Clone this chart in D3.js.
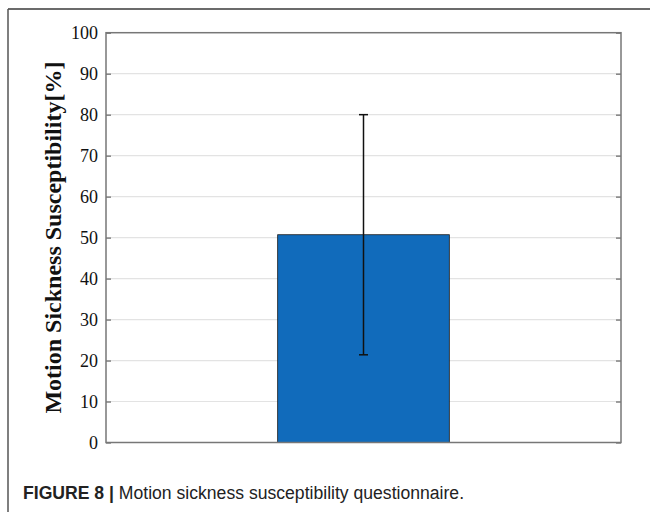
<!DOCTYPE html>
<html>
<head>
<meta charset="utf-8">
<script src="https://cdn.jsdelivr.net/npm/d3@7"></script>
<style>
  html, body { margin: 0; padding: 0; background: #fff; }
  svg { display: block; }
</style>
</head>
<body>
<svg id="chart" width="650" height="512"></svg>
<script>
// Questionnaire result: one bar with its error range
const categories = ["MSSQ"];
const meanValues = [50.7];
const lowerBounds = [21.4];
const upperBounds = [80];
const yTicks = [0, 10, 20, 30, 40, 50, 60, 70, 80, 90, 100];

const svg = d3.select("#chart");
const W = 650, H = 512;
const plot = { left: 106, right: 621, top: 32.7, bottom: 442.5 };

// figure frame (top and left rule)
svg.append("line").attr("x1", 8).attr("x2", W).attr("y1", 9).attr("y2", 9)
  .attr("stroke", "#3a3a3a").attr("stroke-width", 1.5);
svg.append("line").attr("x1", 8).attr("x2", 8).attr("y1", 9).attr("y2", H)
  .attr("stroke", "#555").attr("stroke-width", 1.5);

const x = d3.scaleBand().domain(categories)
  .range([plot.left, plot.right]).paddingInner(0).paddingOuter(1);
const y = d3.scaleLinear().domain([0, 100]).range([plot.bottom, plot.top]);

// grid lines
svg.append("g").selectAll("line").data(yTicks.filter(t => t > 0 && t < 100)).join("line")
  .attr("x1", plot.left).attr("x2", plot.right)
  .attr("y1", d => y(d)).attr("y2", d => y(d))
  .attr("stroke", "#e3e3e3").attr("stroke-width", 1.2);

// bars
svg.append("g").selectAll("rect").data(categories).join("rect")
  .attr("x", d => x(d)).attr("width", x.bandwidth())
  .attr("y", (d, i) => y(meanValues[i]))
  .attr("height", (d, i) => y(0) - y(meanValues[i]))
  .attr("fill", "#116bbb").attr("stroke", "#1a1a1a").attr("stroke-width", 0.8);

// error bars
const eb = svg.append("g").attr("stroke", "#111").attr("stroke-width", 1.5);
categories.forEach((c, i) => {
  const cx = x(c) + x.bandwidth() / 2;
  eb.append("line").attr("x1", cx).attr("x2", cx)
    .attr("y1", y(lowerBounds[i])).attr("y2", y(upperBounds[i]));
  [lowerBounds[i], upperBounds[i]].forEach(v => {
    eb.append("line").attr("x1", cx - 4.5).attr("x2", cx + 4.5)
      .attr("y1", y(v)).attr("y2", y(v));
  });
});

// left axis with inward ticks
const leftAxis = svg.append("g").attr("transform", `translate(${plot.left},0)`)
  .call(d3.axisLeft(y).tickValues(yTicks).tickSizeInner(-5).tickSizeOuter(0).tickPadding(8));
leftAxis.select(".domain").remove();
leftAxis.selectAll(".tick line").attr("stroke", "#666").attr("stroke-width", 1.2);
leftAxis.selectAll(".tick text")
  .attr("font-family", "'Liberation Serif', 'Times New Roman', serif")
  .attr("font-size", 18).attr("fill", "#111");

// right axis ticks (mirrored)
const rightAxis = svg.append("g").attr("transform", `translate(${plot.right},0)`)
  .call(d3.axisRight(y).tickValues(yTicks).tickSizeInner(-5).tickSizeOuter(0).tickFormat(""));
rightAxis.select(".domain").remove();
rightAxis.selectAll(".tick line").attr("stroke", "#666").attr("stroke-width", 1.2);

// axes box
svg.append("rect").attr("x", plot.left).attr("y", plot.top)
  .attr("width", plot.right - plot.left).attr("height", plot.bottom - plot.top)
  .attr("fill", "none").attr("stroke", "#777").attr("stroke-width", 1.5);

// y-axis title
svg.append("text")
  .attr("transform", `translate(61,${(plot.top + plot.bottom) / 2}) rotate(-90)`)
  .attr("text-anchor", "middle")
  .attr("font-family", "'Liberation Serif', 'Times New Roman', serif")
  .attr("font-weight", "bold").attr("font-size", 24).attr("fill", "#111")
  .text("Motion Sickness Susceptibility[%]");

// caption
const cap = svg.append("text").attr("x", 23).attr("y", 499)
  .attr("font-family", "'Liberation Sans', Arial, sans-serif")
  .attr("font-size", 17.6).attr("fill", "#222");
cap.append("tspan").attr("font-weight", "bold").text("FIGURE 8 | ");
cap.append("tspan").text("Motion sickness susceptibility questionnaire.");
</script>
</body>
</html>
